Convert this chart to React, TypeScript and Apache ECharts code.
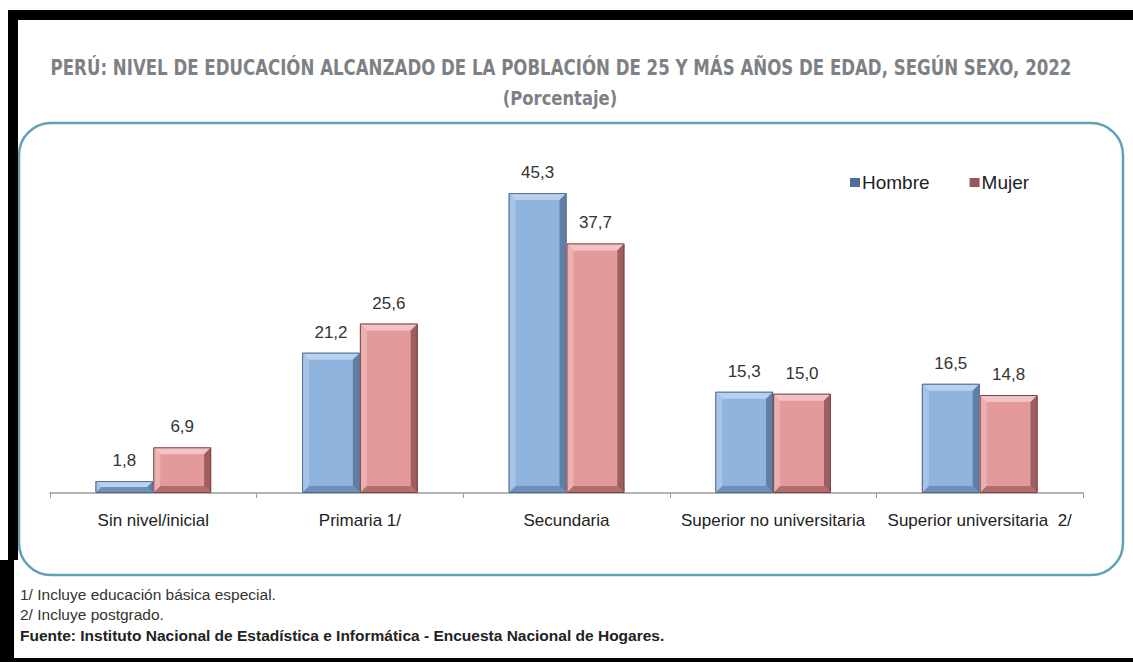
import React, { useEffect, useRef } from "react";
import * as echarts from "echarts";

const categories = [
  "Sin nivel/inicial",
  "Primaria 1/",
  "Secundaria",
  "Superior no universitaria",
  "Superior universitaria  2/",
];
const hombre = [1.8, 21.2, 45.3, 15.3, 16.5];
const mujer = [6.9, 25.6, 37.7, 15.0, 14.8];
const seriesNames = ["Hombre", "Mujer"];
const titleText =
  "PERÚ: NIVEL DE EDUCACIÓN ALCANZADO DE LA POBLACIÓN DE 25 Y MÁS AÑOS DE EDAD, SEGÚN SEXO, 2022";
const subtitleText = "(Porcentaje)";
const notes = [
  "1/ Incluye educación básica especial.",
  "2/ Incluye postgrado.",
];
const sourceText =
  "Fuente: Instituto Nacional de Estadística e Informática - Encuesta Nacional de Hogares.";

const palettes = [
  { base: "#8fb4de", top: "#b9d1ee", left: "#a7c4e7", right: "#5f7fa6", bottom: "#6e8fb8", stroke: "#4f6b8e", legend: "#4f6f95" },
  { base: "#e39a9b", top: "#f2c3c3", left: "#ebb0b0", right: "#9c5e5f", bottom: "#b36d6e", stroke: "#7a4646", legend: "#9a5556" },
];

function makeRender(sIdx: number, values: number[]) {
  const p = palettes[sIdx];
  return (params: any, api: any) => {
    const idx = api.value(0);
    const val = api.value(1);
    const center = api.coord([idx, 0]);
    const topPt = api.coord([idx, val]);
    const catW = api.size([1, 0])[0];
    const w = catW * 0.28;
    const x = sIdx === 0 ? center[0] - w : center[0];
    const y = topPt[1];
    const h = center[1] - topPt[1];
    const b = Math.min(7, h / 2, w / 2);
    const fmt = values[params.dataIndex].toFixed(1).replace(".", ",");
    return {
      type: "group",
      children: [
        { type: "rect", shape: { x, y, width: w, height: h }, style: { fill: p.base } },
        { type: "polygon", shape: { points: [[x, y], [x + w, y], [x + w - b, y + b], [x + b, y + b]] }, style: { fill: p.top } },
        { type: "polygon", shape: { points: [[x, y], [x + b, y + b], [x + b, y + h - b], [x, y + h]] }, style: { fill: p.left } },
        { type: "polygon", shape: { points: [[x + w, y], [x + w, y + h], [x + w - b, y + h - b], [x + w - b, y + b]] }, style: { fill: p.right } },
        { type: "polygon", shape: { points: [[x, y + h], [x + w, y + h], [x + w - b, y + h - b], [x + b, y + h - b]] }, style: { fill: p.bottom } },
        { type: "rect", shape: { x: x + 0.5, y: y + 0.5, width: w - 1, height: h - 1 }, style: { fill: "none", stroke: p.stroke, lineWidth: 1 } },
        {
          type: "text",
          x: x + w / 2,
          y: y - 12,
          style: {
            text: fmt,
            fill: "#333333",
            font: "17px 'Liberation Sans', Arial, sans-serif",
            align: "center",
            verticalAlign: "bottom",
          },
        },
      ],
    };
  };
}

export default function App() {
  const ref = useRef<HTMLDivElement>(null);
  useEffect(() => {
    document.body.style.margin = "0";
    const chart = echarts.init(ref.current!, null, { renderer: "svg" });
    const option: any = {
      animation: false,
      backgroundColor: "#ffffff",
      textStyle: { fontFamily: "'Liberation Sans', Arial, sans-serif" },
      legend: {
        data: seriesNames.map((n, i) => ({ name: n, icon: "rect", itemStyle: { color: palettes[i].legend } })),
        left: 845,
        top: 168,
        itemWidth: 10,
        itemHeight: 9,
        itemGap: 40,
        textStyle: { fontSize: 19, color: "#222222", padding: [0, 0, 0, -3] },
        selectedMode: false,
      },
      grid: { left: 50, right: 50, top: 162, height: 331, containLabel: false },
      xAxis: {
        type: "category",
        data: categories,
        axisLine: { show: true, lineStyle: { color: "#9a9a9a", width: 1.5 } },
        axisTick: { show: true, length: 5, lineStyle: { color: "#9a9a9a" }, inside: false },
        axisLabel: { fontSize: 17, color: "#222222", margin: 19, interval: 0 },
      },
      yAxis: { type: "value", min: 0, max: 50, show: false, splitLine: { show: false } },
      series: [
        {
          name: seriesNames[0],
          type: "custom",
          itemStyle: { color: palettes[0].base },
          renderItem: makeRender(0, hombre),
          data: hombre.map((v, i) => [i, v]),
          encode: { x: 0, y: 1 },
        },
        {
          name: seriesNames[1],
          type: "custom",
          itemStyle: { color: palettes[1].base },
          renderItem: makeRender(1, mujer),
          data: mujer.map((v, i) => [i, v]),
          encode: { x: 0, y: 1 },
        },
      ],
      graphic: [
        { type: "rect", shape: { x: 8, y: 10, width: 1125, height: 10 }, style: { fill: "#000000" } },
        { type: "rect", shape: { x: 8, y: 10, width: 10, height: 550 }, style: { fill: "#000000" } },
        { type: "rect", shape: { x: 0, y: 560, width: 14, height: 102 }, style: { fill: "#000000" } },
        { type: "rect", shape: { x: 0, y: 658, width: 1133, height: 4 }, style: { fill: "#000000" } },
        {
          type: "rect",
          shape: { x: 19, y: 123, width: 1104, height: 452, r: 32 },
          style: { fill: "none", stroke: "#5fa2b8", lineWidth: 2.5 },
          z: -1,
        },
        {
          type: "text",
          x: 561,
          y: 68,
          scaleX: 0.755,
          style: {
            text: titleText,
            fill: "#7d8185",
            font: "bold 22px 'DejaVu Sans', sans-serif",
            align: "center",
            verticalAlign: "middle",
          },
        },
        {
          type: "text",
          x: 560,
          y: 98,
          scaleX: 0.82,
          style: {
            text: subtitleText,
            fill: "#7d8185",
            font: "bold 20px 'DejaVu Sans', sans-serif",
            align: "center",
            verticalAlign: "middle",
          },
        },
        {
          type: "text",
          x: 20,
          y: 594,
          style: { text: notes[0], fill: "#333333", font: "15.5px 'Liberation Sans', sans-serif", verticalAlign: "middle" },
        },
        {
          type: "text",
          x: 20,
          y: 614,
          style: { text: notes[1], fill: "#333333", font: "15.5px 'Liberation Sans', sans-serif", verticalAlign: "middle" },
        },
        {
          type: "text",
          x: 20,
          y: 635,
          style: { text: sourceText, fill: "#222222", font: "bold 15.5px 'Liberation Sans', sans-serif", verticalAlign: "middle" },
        },
      ],
    };
    chart.setOption(option);
    return () => chart.dispose();
  }, []);
  return <div ref={ref} style={{ width: 1133, height: 662 }} />;
}
